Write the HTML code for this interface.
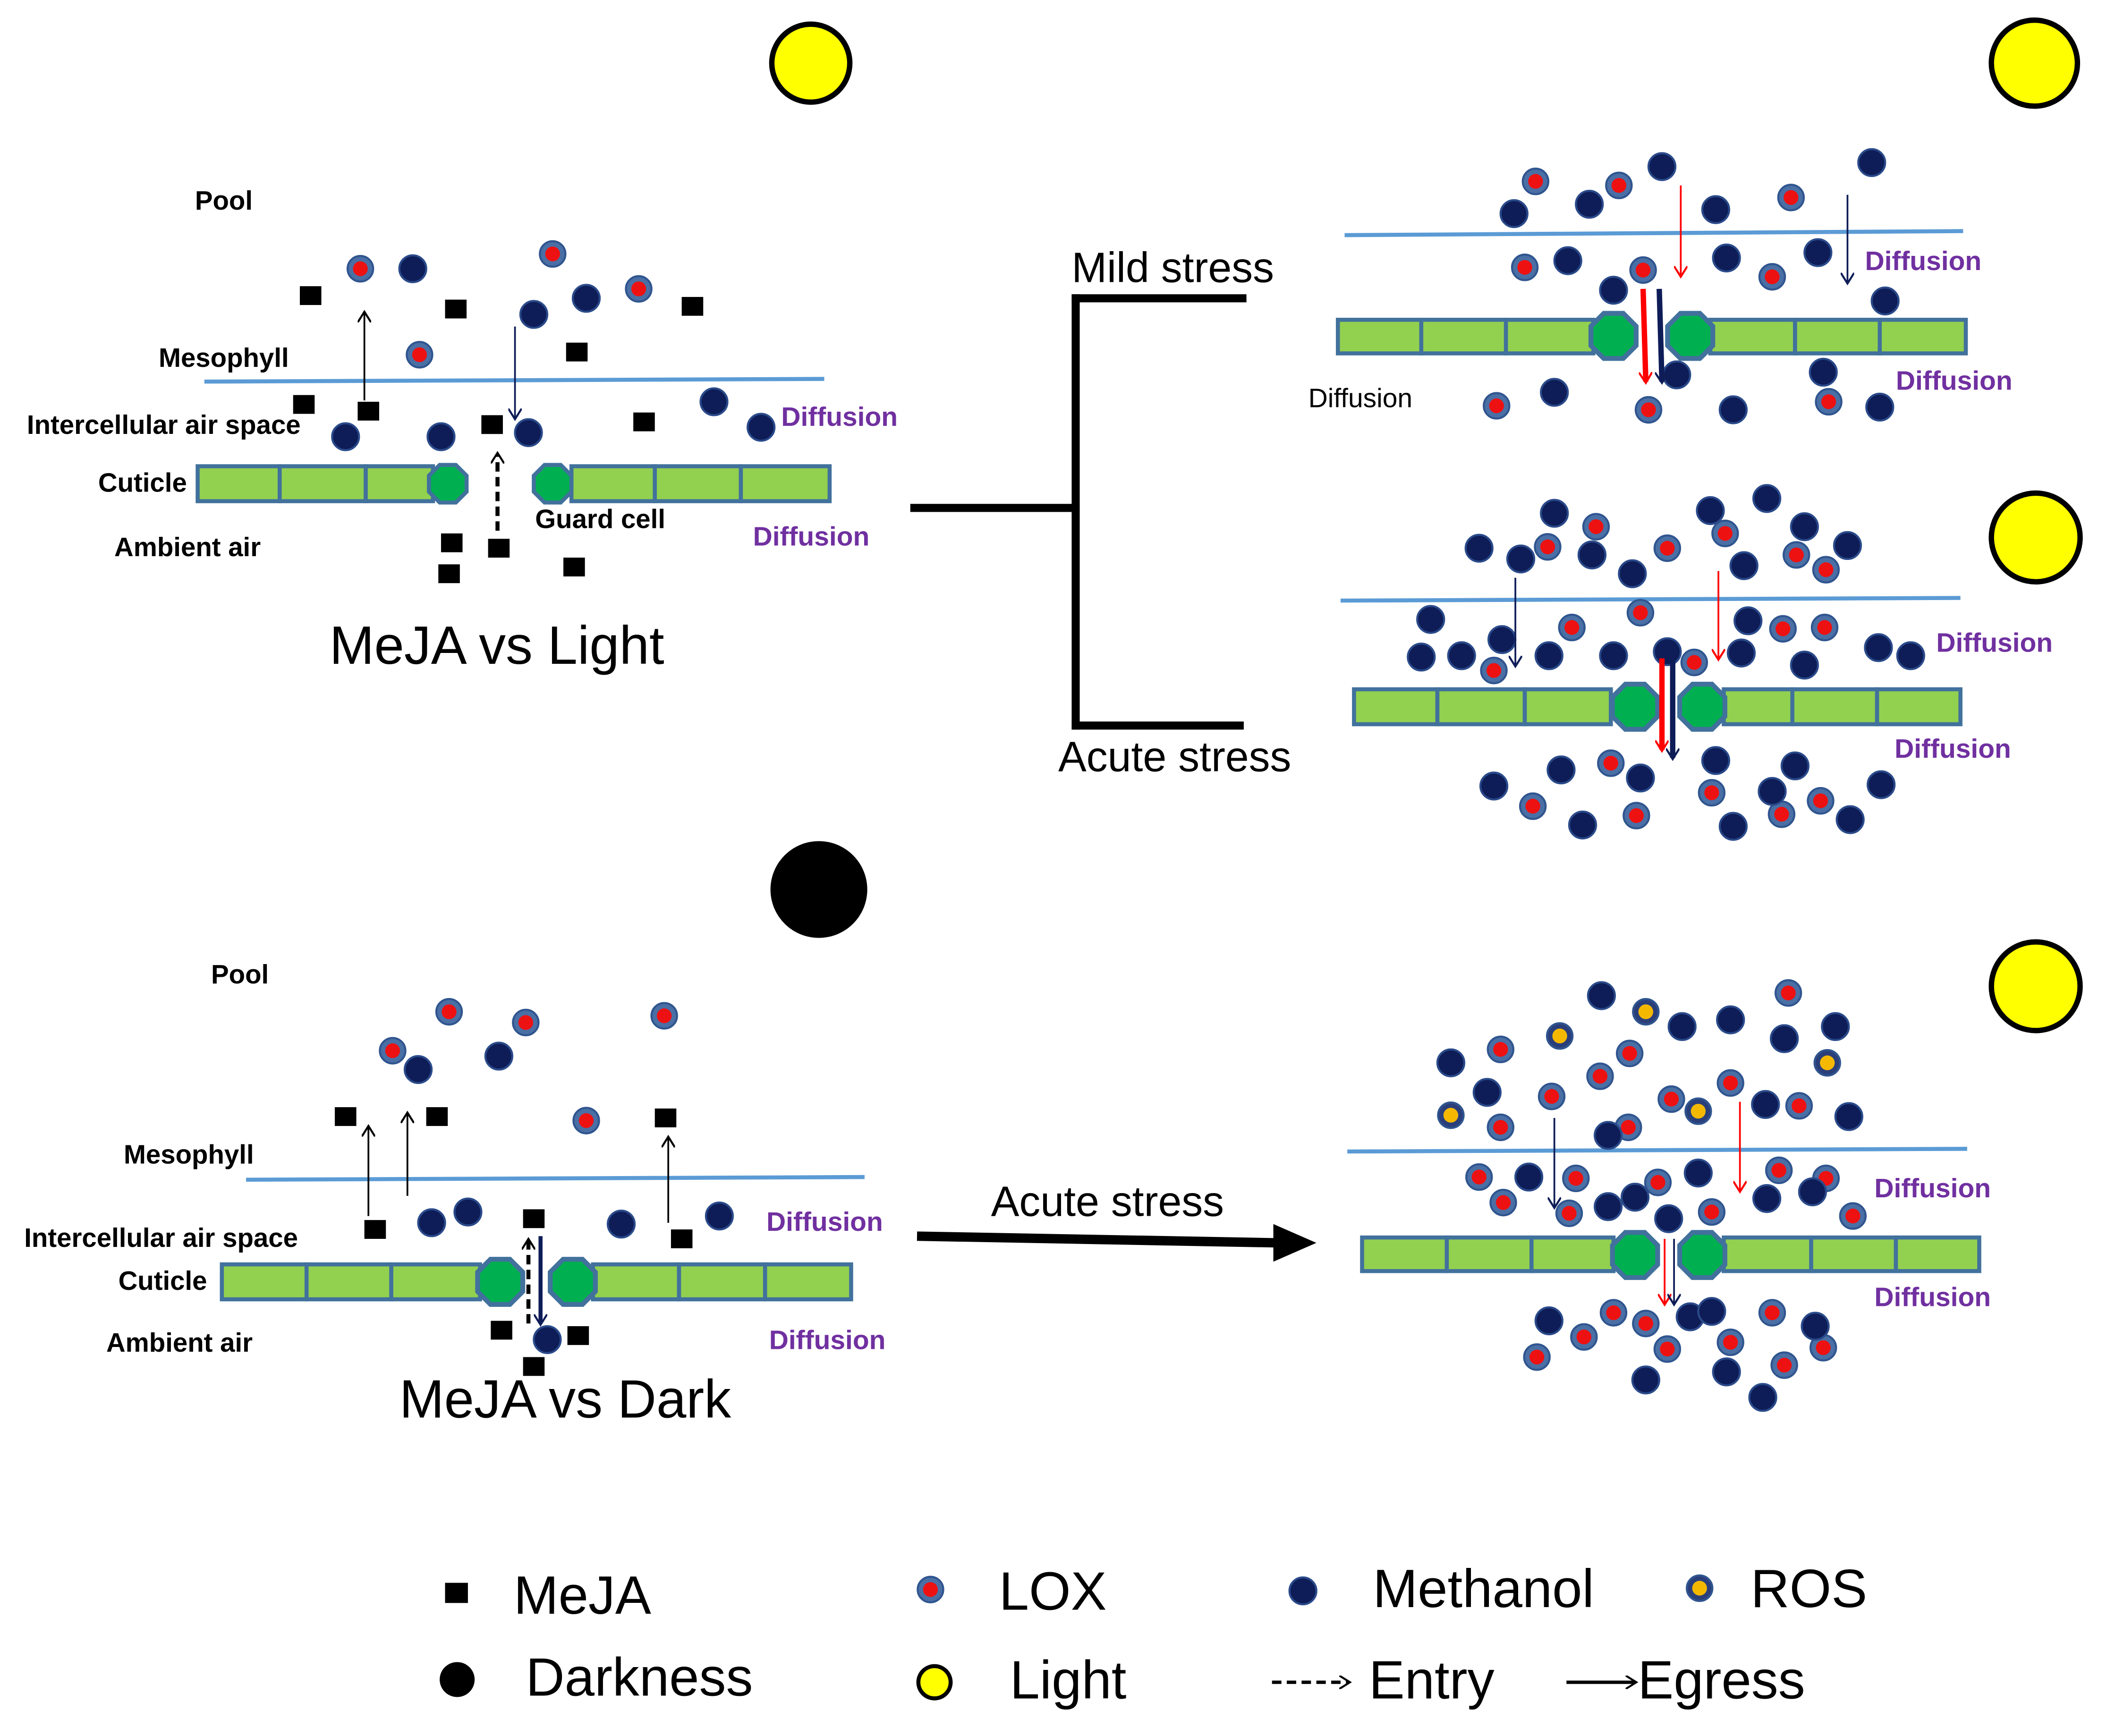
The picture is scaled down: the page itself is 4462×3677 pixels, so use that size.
<!DOCTYPE html>
<html><head><meta charset="utf-8"><style>html,body{margin:0;padding:0;background:#fff}svg{display:block}</style></head><body>
<svg xmlns="http://www.w3.org/2000/svg" width="4462" height="3677" viewBox="0 0 1567 1292" preserveAspectRatio="none" font-family="Liberation Sans, Arial, sans-serif">
<defs>
<g id="lox"><circle r="9.5" fill="#4a6fa5" stroke="#30558f" stroke-width="1.5"/><circle r="5.5" fill="#ee1111"/></g>
<g id="ros"><circle r="9.5" fill="#2a3f7a" stroke="#30558f" stroke-width="1.5"/><circle r="5.5" fill="#f5b800"/></g>
<g id="met"><circle r="10" fill="#0e1d57" stroke="#2a4a8a" stroke-width="1.5"/></g>
<rect id="mj" x="-8" y="-7" width="16" height="14" fill="#000"/>
<polygon id="oct" points="-6,-14 6,-14 14,-6 14,6 6,14 -6,14 -14,6 -14,-6" fill="#00b050" stroke="#41719c" stroke-width="3"/>
<marker id="ahk" markerWidth="10" markerHeight="10" refX="7" refY="5" orient="auto" markerUnits="userSpaceOnUse"><path d="M0,0 L8,5 L0,10" fill="none" stroke="#000" stroke-width="1.5"/></marker>
<marker id="ahn" markerWidth="10" markerHeight="10" refX="7" refY="5" orient="auto" markerUnits="userSpaceOnUse"><path d="M0,0 L8,5 L0,10" fill="none" stroke="#0e1d57" stroke-width="1.5"/></marker>
<marker id="ahr" markerWidth="10" markerHeight="10" refX="7" refY="5" orient="auto" markerUnits="userSpaceOnUse"><path d="M0,0 L8,5 L0,10" fill="none" stroke="#f00" stroke-width="1.5"/></marker>
</defs>
<style>
.seg{fill:#92d050;stroke:#41719c;stroke-width:3}
.ln{stroke:#5b9bd5;stroke-width:3}
.lb{font-weight:bold;font-size:19.8px;fill:#000}
.df{font-weight:bold;font-size:20px;fill:#7030a0}
.sun{fill:#ffff00;stroke:#000;stroke-width:4}
.big{font-size:40px;fill:#000}
.mid{font-size:31.5px;fill:#000}
</style>

<!-- TOP LEFT -->
<circle class="sun" cx="603" cy="47" r="29"/>
<text class="lb" x="145" y="156">Pool</text>
<line class="ln" x1="152" y1="284" x2="613" y2="282"/>
<g>
<rect class="seg" x="147" y="347" width="61" height="26"/><rect class="seg" x="208" y="347" width="64" height="26"/><rect class="seg" x="272" y="347" width="50" height="26"/>
<rect class="seg" x="425" y="347" width="62" height="26"/><rect class="seg" x="487" y="347" width="64" height="26"/><rect class="seg" x="551" y="347" width="66" height="26"/>
<use href="#oct" x="333" y="360"/><use href="#oct" x="411" y="360"/>
</g>
<text class="lb" x="118" y="273">Mesophyll</text>
<text class="lb" x="20" y="323">Intercellular air space</text>
<text class="lb" x="73" y="366">Cuticle</text>
<text class="lb" x="85" y="414">Ambient air</text>
<text class="lb" x="398" y="393">Guard cell</text>
<text class="df" x="581" y="317">Diffusion</text>
<text class="df" x="560" y="406">Diffusion</text>
<text class="big" x="245" y="494">MeJA vs Light</text>
<g>
<use href="#lox" x="268" y="200"/><use href="#lox" x="411" y="189"/><use href="#lox" x="475" y="215"/><use href="#lox" x="312" y="264"/>
<use href="#met" x="307" y="200"/><use href="#met" x="436" y="222"/><use href="#met" x="397" y="234"/><use href="#met" x="531" y="299"/><use href="#met" x="566" y="318"/><use href="#met" x="257" y="325"/><use href="#met" x="328" y="325"/><use href="#met" x="393" y="322"/>
<use href="#mj" x="231" y="220"/><use href="#mj" x="339" y="230"/><use href="#mj" x="429" y="262"/><use href="#mj" x="515" y="228"/><use href="#mj" x="226" y="301"/><use href="#mj" x="274" y="306"/><use href="#mj" x="366" y="316"/><use href="#mj" x="479" y="314"/><use href="#mj" x="336" y="404"/><use href="#mj" x="371" y="408"/><use href="#mj" x="334" y="427"/><use href="#mj" x="427" y="422"/>
</g>
<line x1="271" y1="298" x2="271" y2="233" stroke="#000" stroke-width="1.3" marker-end="url(#ahk)"/>
<line x1="383" y1="243" x2="383" y2="311" stroke="#0e1d57" stroke-width="1.3" marker-end="url(#ahn)"/>
<line x1="370" y1="395" x2="370" y2="338" stroke="#000" stroke-width="3" stroke-dasharray="7,4" marker-end="url(#ahk)"/>

<!-- connector -->
<line x1="677" y1="378" x2="803" y2="378" stroke="#000" stroke-width="6"/>
<line x1="800" y1="219" x2="800" y2="543" stroke="#000" stroke-width="6"/>
<line x1="797" y1="222" x2="927" y2="222" stroke="#000" stroke-width="6"/>
<line x1="797" y1="540" x2="925" y2="540" stroke="#000" stroke-width="6"/>
<text class="mid" x="797" y="210">Mild stress</text>
<text class="mid" x="787" y="574">Acute stress</text>

<!-- TOP RIGHT mild -->
<circle class="sun" cx="1513" cy="47" r="32"/>
<line class="ln" x1="1000" y1="175" x2="1460" y2="172"/>
<rect class="seg" x="995" y="238" width="62" height="25"/><rect class="seg" x="1057" y="238" width="63" height="25"/><rect class="seg" x="1120" y="238" width="65" height="25"/>
<rect class="seg" x="1272" y="238" width="63" height="25"/><rect class="seg" x="1335" y="238" width="63" height="25"/><rect class="seg" x="1398" y="238" width="64" height="25"/>
<use href="#oct" x="1200" y="250" transform="translate(-240 -50) scale(1.2)"/><use href="#oct" x="1257" y="250" transform="translate(-251.4 -50) scale(1.2)"/>
<g>
<use href="#lox" x="1142" y="135"/><use href="#lox" x="1204" y="138"/><use href="#lox" x="1332" y="147"/><use href="#lox" x="1134" y="199"/><use href="#lox" x="1222" y="201"/><use href="#lox" x="1318" y="206"/><use href="#lox" x="1113" y="302"/><use href="#lox" x="1226" y="305"/><use href="#lox" x="1360" y="299"/>
<use href="#met" x="1126" y="159"/><use href="#met" x="1182" y="152"/><use href="#met" x="1236" y="124"/><use href="#met" x="1276" y="156"/><use href="#met" x="1392" y="121"/><use href="#met" x="1166" y="194"/><use href="#met" x="1284" y="192"/><use href="#met" x="1352" y="188"/><use href="#met" x="1200" y="216"/><use href="#met" x="1402" y="224"/><use href="#met" x="1156" y="292"/><use href="#met" x="1247" y="279"/><use href="#met" x="1289" y="305"/><use href="#met" x="1356" y="277"/><use href="#met" x="1398" y="303"/>
</g>
<line x1="1250" y1="138" x2="1250" y2="205" stroke="#f00" stroke-width="1.3" marker-end="url(#ahr)"/>
<line x1="1374" y1="145" x2="1374" y2="210" stroke="#0e1d57" stroke-width="1.3" marker-end="url(#ahn)"/>
<line x1="1222" y1="215" x2="1224" y2="284" stroke="#f00" stroke-width="4" marker-end="url(#ahr)"/>
<line x1="1234" y1="215" x2="1236" y2="284" stroke="#0e1d57" stroke-width="4" marker-end="url(#ahn)"/>
<text class="df" x="1387" y="201">Diffusion</text>
<text class="df" x="1410" y="290">Diffusion</text>
<text x="973" y="303" font-size="20">Diffusion</text>

<!-- MIDDLE RIGHT acute -->
<circle class="sun" cx="1514" cy="400" r="33"/>
<line class="ln" x1="997" y1="447" x2="1458" y2="445"/>
<rect class="seg" x="1007" y="513" width="62" height="26"/><rect class="seg" x="1069" y="513" width="65" height="26"/><rect class="seg" x="1134" y="513" width="64" height="26"/>
<rect class="seg" x="1282" y="513" width="51" height="26"/><rect class="seg" x="1333" y="513" width="63" height="26"/><rect class="seg" x="1396" y="513" width="62" height="26"/>
<use href="#oct" x="1216" y="526" transform="translate(-243.2 -105.2) scale(1.2)"/><use href="#oct" x="1266" y="526" transform="translate(-253.2 -105.2) scale(1.2)"/>
<g>
<use href="#lox" x="1187" y="392"/><use href="#lox" x="1151" y="407"/><use href="#lox" x="1240" y="408"/><use href="#lox" x="1283" y="397"/><use href="#lox" x="1336" y="413"/><use href="#lox" x="1358" y="424"/><use href="#lox" x="1169" y="467"/><use href="#lox" x="1220" y="456"/><use href="#lox" x="1326" y="468"/><use href="#lox" x="1357" y="467"/><use href="#lox" x="1111" y="499"/><use href="#lox" x="1260" y="493"/><use href="#lox" x="1198" y="568"/><use href="#lox" x="1140" y="600"/><use href="#lox" x="1217" y="607"/><use href="#lox" x="1273" y="590"/><use href="#lox" x="1325" y="606"/><use href="#lox" x="1354" y="596"/>
<use href="#met" x="1156" y="382"/><use href="#met" x="1272" y="380"/><use href="#met" x="1314" y="371"/><use href="#met" x="1342" y="392"/><use href="#met" x="1374" y="406"/><use href="#met" x="1100" y="408"/><use href="#met" x="1131" y="416"/><use href="#met" x="1184" y="413"/><use href="#met" x="1214" y="427"/><use href="#met" x="1297" y="421"/><use href="#met" x="1064" y="461"/><use href="#met" x="1057" y="489"/><use href="#met" x="1087" y="488"/><use href="#met" x="1117" y="476"/><use href="#met" x="1152" y="488"/><use href="#met" x="1200" y="488"/><use href="#met" x="1240" y="485"/><use href="#met" x="1300" y="462"/><use href="#met" x="1295" y="486"/><use href="#met" x="1342" y="495"/><use href="#met" x="1397" y="482"/><use href="#met" x="1421" y="488"/><use href="#met" x="1161" y="573"/><use href="#met" x="1220" y="579"/><use href="#met" x="1276" y="566"/><use href="#met" x="1335" y="570"/><use href="#met" x="1111" y="585"/><use href="#met" x="1177" y="614"/><use href="#met" x="1289" y="615"/><use href="#met" x="1318" y="589"/><use href="#met" x="1376" y="610"/><use href="#met" x="1399" y="584"/>
</g>
<line x1="1127" y1="430" x2="1127" y2="495" stroke="#0e1d57" stroke-width="1.3" marker-end="url(#ahn)"/>
<line x1="1278" y1="425" x2="1278" y2="490" stroke="#f00" stroke-width="1.3" marker-end="url(#ahr)"/>
<line x1="1236" y1="490" x2="1236" y2="558" stroke="#f00" stroke-width="4" marker-end="url(#ahr)"/>
<line x1="1244" y1="490" x2="1244" y2="564" stroke="#0e1d57" stroke-width="4" marker-end="url(#ahn)"/>
<text class="df" x="1440" y="485">Diffusion</text>
<text class="df" x="1409" y="564">Diffusion</text>

<!-- BOTTOM LEFT -->
<circle cx="609" cy="662" r="36" fill="#000"/>
<text class="lb" x="157" y="732">Pool</text>
<line class="ln" x1="183" y1="878" x2="643" y2="876"/>
<rect class="seg" x="165" y="941" width="63" height="26"/><rect class="seg" x="228" y="941" width="63" height="26"/><rect class="seg" x="291" y="941" width="66" height="26"/>
<rect class="seg" x="441" y="941" width="64" height="26"/><rect class="seg" x="505" y="941" width="64" height="26"/><rect class="seg" x="569" y="941" width="64" height="26"/>
<use href="#oct" x="372" y="954" transform="translate(-74.4 -190.8) scale(1.2)"/><use href="#oct" x="426" y="954" transform="translate(-85.2 -190.8) scale(1.2)"/>
<text class="lb" x="92" y="866">Mesophyll</text>
<text class="lb" x="18" y="928">Intercellular air space</text>
<text class="lb" x="88" y="960">Cuticle</text>
<text class="lb" x="79" y="1006">Ambient air</text>
<text class="df" x="570" y="916">Diffusion</text>
<text class="df" x="572" y="1004">Diffusion</text>
<text class="big" x="297" y="1055">MeJA vs Dark</text>
<g>
<use href="#lox" x="292" y="782"/><use href="#lox" x="334" y="753"/><use href="#lox" x="391" y="761"/><use href="#lox" x="494" y="756"/><use href="#lox" x="436" y="834"/>
<use href="#met" x="311" y="796"/><use href="#met" x="371" y="786"/><use href="#met" x="321" y="910"/><use href="#met" x="348" y="902"/><use href="#met" x="462" y="911"/><use href="#met" x="535" y="905"/><use href="#met" x="407" y="997"/>
<use href="#mj" x="257" y="831"/><use href="#mj" x="325" y="831"/><use href="#mj" x="495" y="832"/><use href="#mj" x="279" y="915"/><use href="#mj" x="397" y="907"/><use href="#mj" x="507" y="922"/><use href="#mj" x="373" y="990"/><use href="#mj" x="430" y="994"/><use href="#mj" x="397" y="1017"/>
</g>
<line x1="274" y1="905" x2="274" y2="839" stroke="#000" stroke-width="1.3" marker-end="url(#ahk)"/>
<line x1="303" y1="890" x2="303" y2="829" stroke="#000" stroke-width="1.3" marker-end="url(#ahk)"/>
<line x1="497" y1="910" x2="497" y2="847" stroke="#000" stroke-width="1.3" marker-end="url(#ahk)"/>
<line x1="393" y1="985" x2="393" y2="923" stroke="#000" stroke-width="3" stroke-dasharray="7,4" marker-end="url(#ahk)"/>
<line x1="402" y1="920" x2="402" y2="985" stroke="#0e1d57" stroke-width="3" marker-end="url(#ahn)"/>

<!-- big arrow -->
<line x1="682" y1="920" x2="952" y2="925" stroke="#000" stroke-width="7"/>
<polygon points="947,911 979,925 947,939" fill="#000"/>
<text class="mid" x="737" y="905">Acute stress</text>

<!-- BOTTOM RIGHT -->
<circle class="sun" cx="1514" cy="734" r="33"/>
<line class="ln" x1="1002" y1="857" x2="1463" y2="855"/>
<rect class="seg" x="1013" y="921" width="63" height="25"/><rect class="seg" x="1076" y="921" width="63" height="25"/><rect class="seg" x="1139" y="921" width="61" height="25"/>
<rect class="seg" x="1282" y="921" width="65" height="25"/><rect class="seg" x="1347" y="921" width="63" height="25"/><rect class="seg" x="1410" y="921" width="62" height="25"/>
<use href="#oct" x="1216" y="934" transform="translate(-243.2 -186.8) scale(1.2)"/><use href="#oct" x="1266" y="934" transform="translate(-253.2 -186.8) scale(1.2)"/>
<g>
<use href="#ros" x="1160" y="771"/><use href="#ros" x="1224" y="753"/><use href="#ros" x="1359" y="791"/><use href="#ros" x="1079" y="830"/><use href="#ros" x="1263" y="827"/>
<use href="#lox" x="1116" y="781"/><use href="#lox" x="1212" y="784"/><use href="#lox" x="1190" y="801"/><use href="#lox" x="1330" y="739"/><use href="#lox" x="1154" y="816"/><use href="#lox" x="1243" y="818"/><use href="#lox" x="1287" y="806"/><use href="#lox" x="1338" y="823"/><use href="#lox" x="1116" y="839"/><use href="#lox" x="1211" y="839"/><use href="#lox" x="1100" y="876"/><use href="#lox" x="1172" y="877"/><use href="#lox" x="1233" y="880"/><use href="#lox" x="1323" y="871"/><use href="#lox" x="1358" y="877"/><use href="#lox" x="1118" y="895"/><use href="#lox" x="1167" y="903"/><use href="#lox" x="1273" y="902"/><use href="#lox" x="1378" y="905"/><use href="#lox" x="1200" y="977"/><use href="#lox" x="1178" y="995"/><use href="#lox" x="1224" y="985"/><use href="#lox" x="1240" y="1004"/><use href="#lox" x="1287" y="999"/><use href="#lox" x="1318" y="977"/><use href="#lox" x="1356" y="1003"/><use href="#lox" x="1143" y="1010"/><use href="#lox" x="1327" y="1016"/>
<use href="#met" x="1191" y="741"/><use href="#met" x="1251" y="764"/><use href="#met" x="1287" y="759"/><use href="#met" x="1327" y="773"/><use href="#met" x="1365" y="764"/><use href="#met" x="1079" y="791"/><use href="#met" x="1106" y="813"/><use href="#met" x="1313" y="822"/><use href="#met" x="1375" y="831"/><use href="#met" x="1196" y="845"/><use href="#met" x="1137" y="876"/><use href="#met" x="1263" y="873"/><use href="#met" x="1196" y="898"/><use href="#met" x="1216" y="891"/><use href="#met" x="1241" y="907"/><use href="#met" x="1314" y="892"/><use href="#met" x="1348" y="887"/><use href="#met" x="1152" y="983"/><use href="#met" x="1257" y="980"/><use href="#met" x="1273" y="976"/><use href="#met" x="1350" y="987"/><use href="#met" x="1224" y="1027"/><use href="#met" x="1284" y="1021"/><use href="#met" x="1311" y="1040"/>
</g>
<line x1="1156" y1="832" x2="1156" y2="898" stroke="#0e1d57" stroke-width="1.3" marker-end="url(#ahn)"/>
<line x1="1294" y1="820" x2="1294" y2="886" stroke="#f00" stroke-width="1.3" marker-end="url(#ahr)"/>
<line x1="1238" y1="922" x2="1238" y2="970" stroke="#f00" stroke-width="1.3" marker-end="url(#ahr)"/>
<line x1="1245" y1="922" x2="1245" y2="970" stroke="#0e1d57" stroke-width="1.3" marker-end="url(#ahn)"/>
<text class="df" x="1394" y="891">Diffusion</text>
<text class="df" x="1394" y="972">Diffusion</text>

<!-- LEGEND -->
<rect x="331" y="1178" width="17" height="15" fill="#000"/>
<text class="big" x="382" y="1201">MeJA</text>
<use href="#lox" x="692" y="1183"/>
<text class="big" x="743" y="1198">LOX</text>
<use href="#met" x="969" y="1184"/>
<text class="big" x="1021" y="1196">Methanol</text>
<use href="#ros" x="1264" y="1182"/>
<text class="big" x="1302" y="1196">ROS</text>
<circle cx="340" cy="1250" r="13" fill="#000"/>
<text class="big" x="391" y="1262">Darkness</text>
<circle cx="695" cy="1252" r="12" fill="#ffff00" stroke="#000" stroke-width="3"/>
<text class="big" x="751" y="1264">Light</text>
<line x1="946" y1="1252" x2="1003" y2="1252" stroke="#000" stroke-width="2.5" stroke-dasharray="7,4" marker-end="url(#ahk)"/>
<text class="big" x="1018" y="1264">Entry</text>
<line x1="1165" y1="1252" x2="1216" y2="1252" stroke="#000" stroke-width="2.5" marker-end="url(#ahk)"/>
<text class="big" x="1218" y="1264">Egress</text>
</svg>
</body></html>
